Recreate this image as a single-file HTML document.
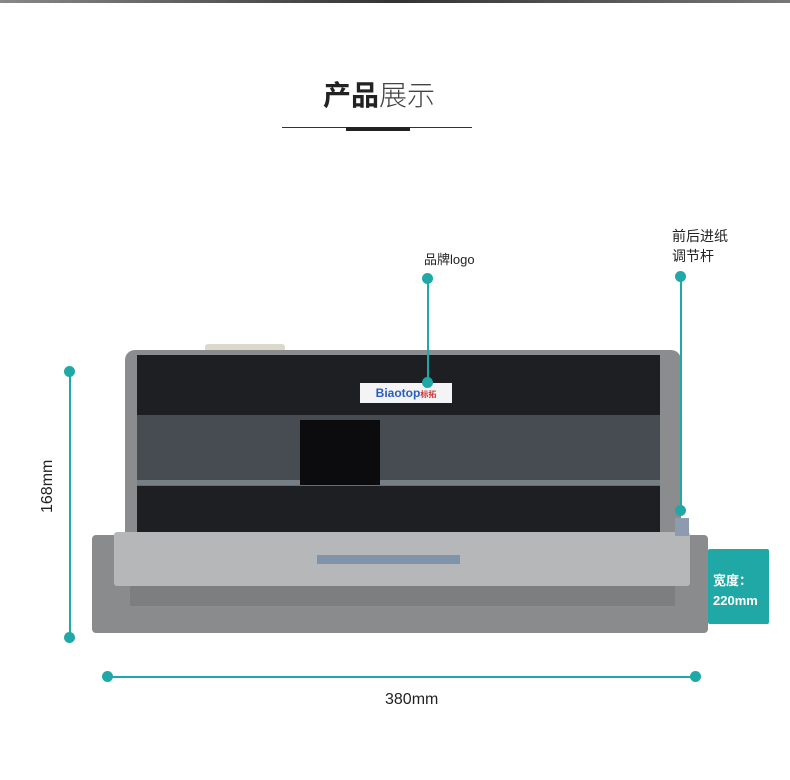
<!DOCTYPE html>
<html><head><meta charset="utf-8"><style>
body{margin:0;width:790px;height:780px;background:#fff;position:relative;overflow:hidden;font-family:"Liberation Sans","Noto Sans CJK SC",sans-serif}
.a{position:absolute}
.t{background:#1fa8a6}
.dot{position:absolute;width:11px;height:11px;border-radius:50%;background:#1fa8a6}
</style></head><body>
<div class="a" style="left:0;top:0;width:790px;height:3px;background:linear-gradient(90deg,#888,#333,#777)"></div>
<div class="a" style="left:0;top:74px;width:758px;text-align:center;font-size:28px;color:#222"><b>产品</b><span style="font-weight:300;color:#444">展示</span></div>
<div class="a" style="left:282px;top:127px;width:190px;height:1px;background:#333"></div>
<div class="a" style="left:346px;top:127px;width:64px;height:4px;background:#222"></div>

<!-- printer -->
<div class="a" style="left:205px;top:344px;width:80px;height:8px;background:#ddd8cc;border-radius:3px"></div>
<div class="a" style="left:125px;top:350px;width:556px;height:195px;background:#8b8c8e;border-radius:10px 10px 0 0"></div>
<div class="a" style="left:137px;top:355px;width:523px;height:180px;background:#1e1f22"></div>
<div class="a" style="left:137px;top:415px;width:523px;height:70px;background:rgba(120,130,140,0.45)"></div>
<div class="a" style="left:137px;top:480px;width:523px;height:6px;background:rgba(150,160,170,0.6)"></div>
<div class="a" style="left:300px;top:420px;width:80px;height:65px;background:#0c0c0e"></div>
<div class="a" style="left:360px;top:383px;width:92px;height:20px;background:#f4f4f6;color:#2a5dbb;font-size:12px;font-weight:bold;line-height:20px;text-align:center">Biaotop<span style="font-size:8px;color:#c33">标拓</span></div>
<div class="a" style="left:92px;top:535px;width:616px;height:98px;background:#8a8b8d;border-radius:4px"></div>
<div class="a" style="left:114px;top:532px;width:576px;height:54px;background:#b6b7b9;border-radius:3px"></div>
<div class="a" style="left:130px;top:586px;width:545px;height:20px;background:#7d7e80"></div>
<div class="a" style="left:317px;top:555px;width:143px;height:9px;background:#7f94a9"></div>
<div class="a" style="left:675px;top:518px;width:14px;height:18px;background:#8d9ab0"></div>

<!-- annotations -->
<div class="a t" style="left:69px;top:371px;width:2px;height:266px"></div>
<div class="dot" style="left:64px;top:366px"></div>
<div class="dot" style="left:64px;top:632px"></div>
<div class="a" style="left:18px;top:474px;width:60px;font-size:16px;color:#222;transform:rotate(-90deg)">168mm</div>
<div class="a t" style="left:107px;top:676px;width:588px;height:2px"></div>
<div class="dot" style="left:102px;top:671px"></div>
<div class="dot" style="left:690px;top:671px"></div>
<div class="a" style="left:385px;top:691px;font-size:16px;color:#222">380mm</div>
<div class="a t" style="left:708px;top:549px;width:61px;height:75px;color:#fff;font-size:13px;font-weight:bold;line-height:20px;padding-top:22px;box-sizing:border-box;padding-left:5px;border-radius:2px">宽度：<br>220mm</div>
<div class="a" style="left:424px;top:249px;font-size:13px;color:#222">品牌logo</div>
<div class="a t" style="left:427px;top:279px;width:2px;height:104px"></div>
<div class="dot" style="left:422px;top:273px"></div>
<div class="dot" style="left:422px;top:377px"></div>
<div class="a" style="left:672px;top:226px;font-size:14px;line-height:20px;color:#222">前后进纸<br>调节杆</div>
<div class="a t" style="left:680px;top:277px;width:2px;height:234px"></div>
<div class="dot" style="left:675px;top:271px"></div>
<div class="dot" style="left:675px;top:505px"></div>
</body></html>
